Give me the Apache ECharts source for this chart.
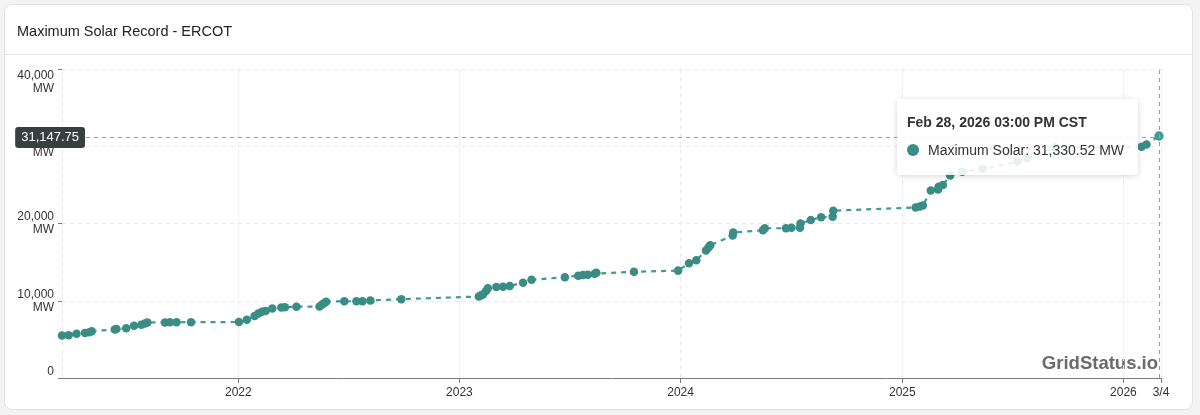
<!DOCTYPE html>
<html><head><meta charset="utf-8">
<script src="https://cdn.jsdelivr.net/npm/echarts@6/dist/echarts.min.js"></script>
<style>
html,body{margin:0;padding:0;width:1200px;height:415px;background:#f3f3f3;overflow:hidden;font-family:"Liberation Sans",Arial,Helvetica,sans-serif;}
#card{position:absolute;left:4px;top:4px;width:1187px;height:404px;background:#fff;border:1px solid #e2e2e2;border-radius:8px;}
#sep{position:absolute;left:5px;top:54px;width:1187px;height:1px;background:#e6e6e6;}
#chart{position:absolute;left:0;top:0;width:1200px;height:415px;}
</style></head><body>
<div id="card"></div><div id="sep"></div><div id="chart"></div>
<script>
// ---- data ----
const dates = [
 '2021-03-16','2021-03-27','2021-04-09','2021-04-23','2021-04-30','2021-05-04',
 '2021-06-11','2021-06-14','2021-06-30','2021-07-13','2021-07-25','2021-07-31','2021-08-04',
 '2021-09-02','2021-09-10','2021-09-21','2021-10-15',
 '2022-01-02','2022-01-15','2022-01-28','2022-02-03','2022-02-09','2022-02-15','2022-02-26',
 '2022-03-13','2022-03-19','2022-04-07','2022-05-15','2022-05-20','2022-05-23','2022-05-26',
 '2022-06-25','2022-07-15','2022-07-25','2022-08-07','2022-09-27',
 '2023-02-02','2023-02-06','2023-02-09','2023-02-14','2023-02-17','2023-03-03','2023-03-14',
 '2023-03-25','2023-04-16','2023-04-30','2023-06-24','2023-07-16','2023-07-24','2023-08-01',
 '2023-08-12','2023-08-15','2023-10-16','2023-12-28',
 '2024-01-15','2024-01-27','2024-02-12','2024-02-16','2024-02-19','2024-03-27','2024-03-28',
 '2024-05-16','2024-05-19','2024-06-23','2024-07-02','2024-07-16','2024-07-17','2024-08-03',
 '2024-08-20','2024-09-08','2024-09-09',
 '2025-01-23','2025-01-30','2025-02-04','2025-02-17','2025-03-01','2025-03-02','2025-03-09',
 '2025-03-21','2025-04-10','2025-05-14','2025-07-10','2025-07-26','2025-09-10',
 '2026-01-31','2026-02-08','2026-02-28 15:00'
];
const values = [
 5500,5540,5735,5825,5915,6060,
 6280,6340,6430,6770,6900,7055,7185,
 7195,7205,7215,7230,
 7250,7535,8025,8350,8580,8675,9000,
 9125,9150,9230,9255,9555,9710,9880,
 9930,9940,9950,10045,10200,
 10550,10705,10835,11260,11610,11780,11805,
 11910,12340,12710,13050,13245,13330,13370,
 13490,13620,13760,13900,
 14850,15235,16505,16890,17180,18450,18835,
 19120,19380,19390,19445,19460,20000,20450,
 20800,20880,21660,
 22070,22200,22320,24270,24400,24750,24985,
 26215,26690,27080,28025,28440,29840,
 29950,30230,31330.52
];
const xTickDates = ['2022-01-01','2023-01-01','2024-01-01','2025-01-01','2026-01-01','2026-03-04'];
const xMinDate = '2021-03-16';
const xMaxDate = '2026-03-04';
const yTicks = [0, 10000, 20000, 30000, 40000];
const pointerValue = 31147.75;
const seriesName = 'Maximum Solar';
const titleText = 'Maximum Solar Record - ERCOT';
const watermark = 'GridStatus.io';

const COLOR = '#3a8d85';
const FONT = '"Liberation Sans", Arial, Helvetica, sans-serif';
const ts = s => echarts.time.parse(s).getTime();
const MONTHS = ['Jan','Feb','Mar','Apr','May','Jun','Jul','Aug','Sep','Oct','Nov','Dec'];
const pad = n => (n < 10 ? '0' : '') + n;
const fmtNum = (v, d) => Number(v).toLocaleString('en-US', {minimumFractionDigits: d, maximumFractionDigits: d});

const chart = echarts.init(document.getElementById('chart'), null, {renderer: 'canvas'});
const seriesData = dates.map((d, i) => [ts(d), values[i]]);
const xTicks = xTickDates.map(ts);

chart.setOption({
  animation: false,
  textStyle: {fontFamily: FONT},
  title: {
    text: titleText, left: 12, top: 19,
    textStyle: {fontSize: 14.5, fontWeight: 'normal', color: '#222', fontFamily: FONT}
  },
  grid: {left: 62, right: 39, top: 69, bottom: 37, containLabel: false, outerBoundsMode: 'none'},
  xAxis: {
    type: 'value',
    min: ts(xMinDate), max: ts(xMaxDate),
    axisLine: {show: true, lineStyle: {color: '#7a7a7a', width: 1}},
    axisTick: {show: true, length: 5, lineStyle: {color: '#7a7a7a'}, customValues: xTicks},
    axisLabel: {
      customValues: xTicks, color: '#333', fontSize: 12, margin: 9, hideOverlap: false,
      formatter: v => { const d = new Date(v); return (d.getMonth() === 0 && d.getDate() === 1) ? String(d.getFullYear()) : (d.getMonth() + 1) + '/' + d.getDate(); }
    },
    splitLine: {show: true, lineStyle: {color: '#e9e9e9', type: [4, 4]}},
    axisPointer: {label: {show: false}}
  },
  yAxis: {
    type: 'value', min: yTicks[0], max: yTicks[yTicks.length - 1], interval: yTicks[1] - yTicks[0],
    axisLine: {show: true, lineStyle: {color: '#e9e9e9', type: [4, 4]}},
    axisTick: {show: true, length: 4, lineStyle: {color: '#7a7a7a'}},
    axisLabel: {
      color: '#333', fontSize: 12, lineHeight: 13, margin: 8,
      verticalAlignMaxLabel: 'top', verticalAlignMinLabel: 'bottom',
      formatter: v => v === 0 ? '0' : fmtNum(v, 0) + '\nMW'
    },
    splitLine: {show: true, lineStyle: {color: '#e9e9e9', type: [4, 4]}},
    axisPointer: {
      label: {
        show: true, backgroundColor: '#38403f', color: '#fff', fontSize: 13,
        padding: [4, 6, 4, 6], borderRadius: 3, margin: -23,
        formatter: p => fmtNum(p.value, 2)
      }
    }
  },
  tooltip: {
    trigger: 'axis', triggerOn: 'none', alwaysShowContent: true,
    showDelay: 0, transitionDuration: 0,
    backgroundColor: 'rgba(255,255,255,0.88)', borderWidth: 0, padding: 0,
    extraCssText: 'box-shadow:0 1px 6px rgba(0,0,0,0.16);border-radius:4px;',
    position: () => [897, 99],
    axisPointer: {
      type: 'cross', animation: false,
      lineStyle: {color: '#9c9c9c', type: [4, 4], width: 1},
      crossStyle: {color: '#9c9c9c', type: [4, 4], width: 1}
    },
    formatter: params => {
      const p = params[0];
      const d = new Date(p.value[0]);
      let h = d.getHours(); const ap = h >= 12 ? 'PM' : 'AM'; h = h % 12; if (h === 0) h = 12;
      const t = MONTHS[d.getMonth()] + ' ' + d.getDate() + ', ' + d.getFullYear() + ' ' + pad(h) + ':' + pad(d.getMinutes()) + ' ' + ap + ' CST';
      return '<div style="width:241px;height:76px;box-sizing:border-box;padding:13px 10px 0 10px;font-family:' + FONT.replace(/"/g, "'") + ';">' +
        '<div style="font-size:14px;line-height:20px;font-weight:bold;color:#333;">' + t + '</div>' +
        '<div style="margin-top:8px;font-size:14px;line-height:20px;color:#333;display:flex;align-items:center;">' +
        '<span style="display:inline-block;width:12px;height:12px;border-radius:6px;background:' + COLOR + ';margin-right:9px;"></span>' +
        p.seriesName + ': ' + fmtNum(p.value[1], 2) + ' MW</div></div>';
    }
  },
  graphic: [{
    type: 'text', right: 42, bottom: 42, z: 0,
    style: {text: watermark, fill: '#6b6b6b', font: 'bold 18.5px ' + FONT}
  }],
  series: [{
    type: 'line', name: seriesName, data: seriesData,
    symbol: 'circle', symbolSize: 8.5, showSymbol: true,
    itemStyle: {color: COLOR},
    lineStyle: {color: COLOR, width: 2.2, type: [5, 5]},
    z: 3
  }]
});

const last = seriesData[seriesData.length - 1];
const px = chart.convertToPixel({seriesIndex: 0}, last);
const py = chart.convertToPixel({yAxisIndex: 0}, pointerValue);
chart.dispatchAction({type: 'showTip', x: px[0], y: py});
</script>
</body></html>
